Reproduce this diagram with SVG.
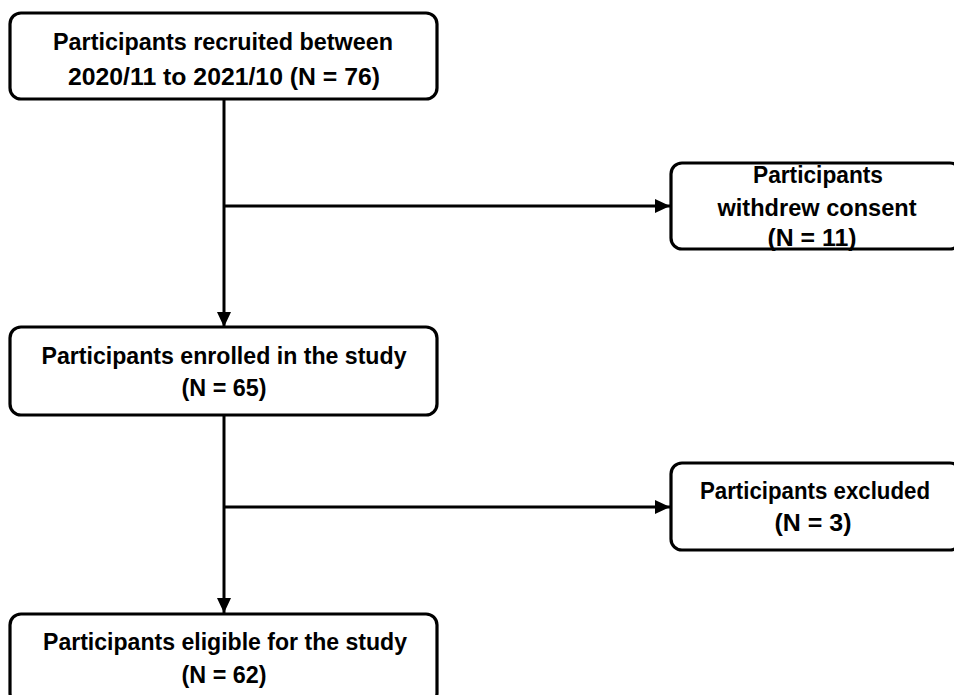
<svg xmlns="http://www.w3.org/2000/svg" width="954" height="695" viewBox="0 0 954 695">
  <style>
    .box { fill: #ffffff; stroke: #000000; stroke-width: 3.2; }
    .lbl { font-family: "Liberation Sans", Arial, sans-serif; font-weight: bold; font-size: 23.5px; fill: #000000; text-anchor: middle; }
    .conn { stroke: #000000; stroke-width: 3; fill: none; }
  </style>
  <defs>
    <marker id="arrow" markerUnits="userSpaceOnUse" markerWidth="16" markerHeight="14" refX="15" refY="7" orient="auto">
      <path d="M0,0 L15,7 L0,14 Z" fill="#000000"/>
    </marker>
  </defs>
  <rect width="954" height="695" fill="#ffffff"/>
  <g id="connectors">
    <line class="conn" x1="224" y1="99" x2="224" y2="327" marker-end="url(#arrow)"/>
    <line class="conn" x1="224" y1="206" x2="670" y2="206" marker-end="url(#arrow)"/>
    <line class="conn" x1="224" y1="415" x2="224" y2="613" marker-end="url(#arrow)"/>
    <line class="conn" x1="224" y1="507" x2="670" y2="507" marker-end="url(#arrow)"/>
  </g>
  <g id="recruited">
    <rect class="box" x="10" y="13" width="427" height="86" rx="11"/>
    <text class="lbl" x="223" y="50" textLength="340" lengthAdjust="spacingAndGlyphs">Participants recruited between</text>
    <text class="lbl" x="224" y="85" textLength="312" lengthAdjust="spacingAndGlyphs">2020/11 to 2021/10 (N = 76)</text>
  </g>
  <g id="withdrew">
    <rect class="box" x="671" y="163" width="290" height="86" rx="11"/>
    <text class="lbl" x="818" y="183" textLength="130" lengthAdjust="spacingAndGlyphs">Participants</text>
    <text class="lbl" x="817" y="216" textLength="199" lengthAdjust="spacingAndGlyphs">withdrew consent</text>
    <text class="lbl" x="812" y="246" textLength="89" lengthAdjust="spacingAndGlyphs">(N = 11)</text>
  </g>
  <g id="enrolled">
    <rect class="box" x="10" y="327" width="427" height="88" rx="11"/>
    <text class="lbl" x="224" y="364" textLength="365" lengthAdjust="spacingAndGlyphs">Participants enrolled in the study</text>
    <text class="lbl" x="224" y="396" textLength="85" lengthAdjust="spacingAndGlyphs">(N = 65)</text>
  </g>
  <g id="excluded">
    <rect class="box" x="671" y="463" width="290" height="87" rx="11"/>
    <text class="lbl" x="815" y="499" textLength="230" lengthAdjust="spacingAndGlyphs">Participants excluded</text>
    <text class="lbl" x="813" y="531" textLength="77" lengthAdjust="spacingAndGlyphs">(N = 3)</text>
  </g>
  <g id="eligible">
    <rect class="box" x="10" y="614" width="427" height="90" rx="11"/>
    <text class="lbl" x="225" y="650" textLength="364" lengthAdjust="spacingAndGlyphs">Participants eligible for the study</text>
    <text class="lbl" x="224" y="683" textLength="85" lengthAdjust="spacingAndGlyphs">(N = 62)</text>
  </g>
</svg>
